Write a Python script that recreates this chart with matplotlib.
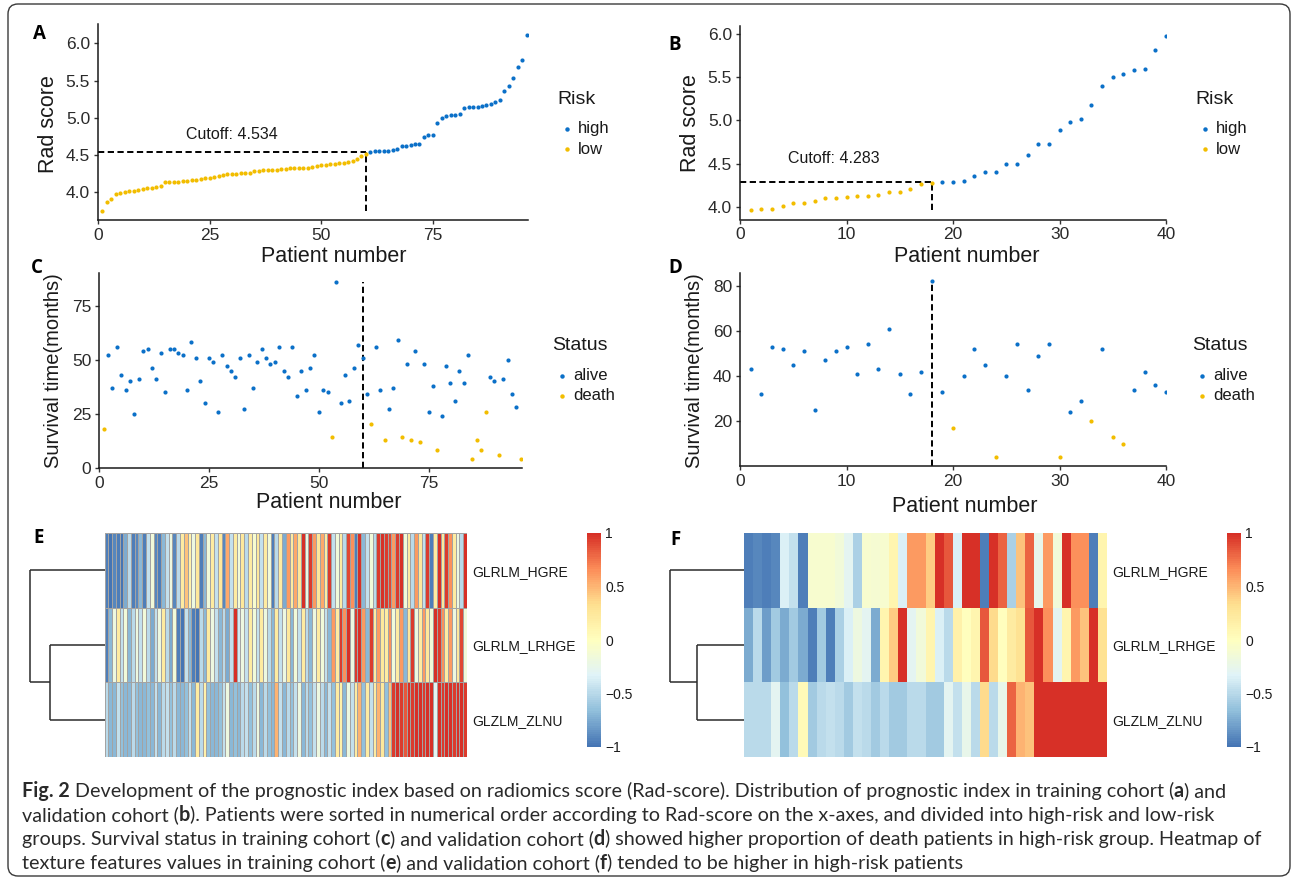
import matplotlib
matplotlib.use('Agg')
import matplotlib.pyplot as plt
import numpy as np
from matplotlib.colors import LinearSegmentedColormap
from matplotlib.patches import FancyBboxPatch

W, H = 1295, 883

# ---- data ----
train_score = [3.745, 3.87, 3.91, 3.97, 3.99, 4.005, 4.01, 4.02, 4.03, 4.035,
               4.05, 4.06, 4.07, 4.08, 4.13, 4.14, 4.14, 4.14, 4.15, 4.15,
               4.16, 4.165, 4.18, 4.19, 4.195, 4.205, 4.22, 4.23, 4.24, 4.24,
               4.245, 4.25, 4.255, 4.255, 4.28, 4.285, 4.29, 4.295, 4.30, 4.30,
               4.31, 4.31, 4.32, 4.32, 4.325, 4.33, 4.33, 4.34, 4.35, 4.365,
               4.37, 4.375, 4.38, 4.385, 4.39, 4.41, 4.42, 4.45, 4.49, 4.51,
               4.54, 4.55, 4.55, 4.55, 4.55, 4.57, 4.585, 4.62, 4.625, 4.63,
               4.64, 4.65, 4.745, 4.77, 4.77, 4.93, 5.0, 5.02, 5.035, 5.035,
               5.05, 5.125, 5.14, 5.14, 5.15, 5.155, 5.165, 5.19, 5.21, 5.24,
               5.36, 5.42, 5.53, 5.68, 5.77, 6.11]
train_cutoff = 4.534

valid_score = [3.96, 3.98, 3.98, 4.01, 4.05, 4.05, 4.07, 4.10, 4.10, 4.12,
               4.13, 4.13, 4.135, 4.17, 4.17, 4.21, 4.26, 4.28, 4.29, 4.29,
               4.295, 4.355, 4.40, 4.40, 4.50, 4.50, 4.60, 4.725, 4.73, 4.895,
               4.98, 5.02, 5.18, 5.40, 5.50, 5.535, 5.58, 5.60, 5.82, 5.98]
valid_cutoff = 4.283

train_surv = [18, 52, 37, 56, 43, 36, 40, 25, 41, 54, 55, 46, 41, 53, 35, 55,
              55, 53, 52, 36, 58, 51, 40, 30, 51, 49, 26, 52, 47, 45, 42, 51,
              27, 52, 37, 49, 55, 51, 48, 49, 56, 45, 42, 56, 33, 45, 36, 46,
              52, 26, 36, 35, 14, 86, 30, 43, 31, 46, 57, 51, 34, 20, 56, 36,
              13, 27, 37, 59, 14, 48, 13, 54, 12, 48, 26, 38, 8, 24, 47, 39,
              31, 45, 39, 52, 4, 13, 8, 26, 42, 40, 6, 41, 50, 34, 28, 4]
train_death = [1, 53, 62, 65, 69, 71, 73, 77, 85, 86, 87, 88, 91, 96]

valid_surv = [43, 32, 53, 52, 45, 51, 25, 47, 51, 53, 41, 54, 43, 61, 41, 32,
              42, 82, 33, 17, 40, 52, 45, 4, 40, 54, 34, 49, 54, 4, 24, 29,
              20, 52, 13, 10, 34, 42, 36, 33]
valid_death = [20, 24, 30, 33, 35, 36]

features = ['GLRLM_HGRE', 'GLRLM_LRHGE', 'GLZLM_ZLNU']

train_hgre = [-0.95, -1.0, -0.9, -0.95, -1.0, -0.75, -0.5, -0.95, -0.9, -0.7,
              -0.95, -0.45, -0.15, -0.9, -0.95, -0.7, -0.45, -0.2, -0.9, -0.5,
              0.2, 0.45, 0.15, -0.2, 0.25, -0.95, -0.7, -0.15, 0.2, -0.45,
              0.25, -0.9, 0.55, -0.45, 0.2, -0.15, 0.25, -0.5, 0.2, -0.1,
              0.25, -0.45, 0.2, -0.15, -0.95, -0.5, 0.2, -0.75, 0.6, 0.2,
              0.55, 0.25, 1.0, -0.2, 0.95, 0.6, 0.25, 0.55, 0.2, 0.95,
              -0.45, -0.15, 0.2, -0.5, 0.9, 0.65, -0.95, 1.0, -0.7, -0.45,
              -0.15, -0.5, 0.95, 1.0, 0.95, 0.9, 0.6, 0.95, 1.0, -0.15,
              0.2, -0.5, 0.6, 0.25, -0.45, 0.95, -0.95, 0.2, 1.0, 0.25,
              0.95, 0.65, 0.2, -0.2, -0.5, 1.0]
train_lrhge = [-0.95, -0.7, -0.2, 0.2, -0.45, -0.15, -0.7, -0.5, -0.2, -0.45,
               -0.15, -0.5, -0.75, -0.45, -0.2, 0.2, -0.5, -0.75, -0.15, -0.95,
               -1.0, -0.45, -0.7, -0.95, -1.0, -0.5, -0.7, 0.2, -0.2, -0.45,
               -0.7, -0.5, -0.75, -0.45, 1.0, -0.4, -0.2, -0.45, 0.2, -0.15,
               -0.45, 0.2, -0.2, -0.5, -0.7, 0.2, -0.45, -0.2, 0.25, -0.7,
               -0.15, -0.45, 0.2, -0.5, -0.7, -0.2, 0.2, -0.15, -0.45, -0.7,
               0.6, 0.2, 0.95, 0.65, 1.0, -0.2, 0.95, 1.0, 0.6, -0.7,
               0.95, 0.2, 0.6, 0.25, 0.2, 0.65, -0.15, 0.2, 0.6, -0.7,
               0.25, 0.95, -0.2, 0.2, 0.6, 0.25, -0.15, 1.0, 0.95, 0.65,
               0.2, 0.6, -0.2, 0.25, 0.9, -0.15]
train_zlnu = [-0.5, -0.7, -0.7, -0.45, -0.65, -0.7, -0.7, -0.5, -0.65, -0.7,
              -0.7, -0.65, -0.7, -0.45, -0.7, -0.5, -0.45, -0.65, -0.5, -0.7,
              -0.7, -0.65, -0.45, -0.7, 0.2, -0.5, 0.15, -0.65, -0.7, -0.7,
              -0.65, -0.45, -0.2, -0.7, -0.65, -0.7, -0.5, -0.45, -0.65, -0.5,
              -0.2, -0.7, -0.5, -0.65, -0.7, 0.5, -0.45, -0.7, -0.5, -0.65,
              -0.45, -0.2, -0.7, -0.5, -0.65, -0.45, -0.2, -0.5, -0.7, -0.45,
              -0.65, 0.2, 0.15, -0.7, -0.2, -0.45, 0.2, 0.5, -0.65, 0.2,
              -0.45, 0.2, 0.5, 0.25, -0.65, 0.45, 0.95, 1.0, 0.95, 0.85,
              1.0, 0.95, 1.0, 1.0, 0.95, 1.0, 1.0, -0.3, 1.0, 0.95,
              1.0, 1.0, 0.95, 1.0, 1.0, 0.95]

valid_hgre = [-0.95, -0.9, -0.95, -0.9, -0.35, -0.45, -0.95, -0.1, -0.1, -0.1,
              -0.15, -0.3, -0.55, -0.1, -0.12, -0.1, 0.1, -0.35, 0.6, 0.6,
              0.4, 1.0, 0.85, -0.35, 1.0, 1.0, -0.95, 1.0, 0.8, -0.55,
              0.45, 0.8, -0.25, 0.6, -0.15, 1.0, 0.65, 0.65, -0.95, 0.1]
valid_lrhge = [-0.75, -0.5, -0.8, -0.6, -0.75, -0.6, -0.75, -0.95, -0.6, -0.95,
               -0.55, -0.35, -0.2, -0.3, -0.75, 0.1, 0.4, 1.0, -0.3, -0.15,
               0.1, -0.35, -0.5, 0.15, 0.0, 0.1, 0.85, 0.35, 0.0, 0.2,
               0.3, 0.85, 1.0, 0.65, -0.3, 0.1, 0.6, 0.45, 1.0, 0.3]
valid_zlnu = [-0.5, -0.5, -0.5, -0.3, -0.65, -0.5, 0.05, -0.6, -0.5, -0.45,
              -0.5, -0.6, -0.45, -0.5, -0.6, -0.5, -0.6, -0.6, -0.5, -0.5,
              -0.6, -0.6, -0.3, -0.45, -0.25, -0.5, 0.35, -0.5, -0.25, 0.8,
              0.5, 0.45, 1.0, 1.0, 1.0, 1.0, 1.0, 1.0, 1.0, 1.0]

# merge heights of the row dendrograms (rows 2+3 first, then row 1)
train_merge = [0.73, 1.0]
valid_merge = [0.64, 1.0]

BLUE = '#0b70c8'
YELLOW = '#f2bd00'
TXT = '#1a1a1a'
heat_cmap = LinearSegmentedColormap.from_list(
    'rdylbu', ['#4575B4', '#91BFDB', '#E0F3F8', '#FFFFBF', '#FEE090', '#FC8D59', '#D73027'], N=100)

plt.rcParams['font.family'] = ['Liberation Sans', 'DejaVu Sans']
plt.rcParams['lines.scale_dashes'] = False
DASH = (0, (4.5, 2.5))


def px_axes(l, t, r, b):
    return fig.add_axes([l / W, 1 - b / H, (r - l) / W, (b - t) / H])


def style(ax):
    for s in ['top', 'right']:
        ax.spines[s].set_visible(False)
    for s in ['left', 'bottom']:
        ax.spines[s].set_linewidth(1.1)
        ax.spines[s].set_color(TXT)
    ax.tick_params(direction='out', length=3.2, width=1.0, color='#333333',
                   labelsize=12.5, labelcolor='#2a2a2a', pad=2.5)


fig = plt.figure(figsize=(W / 100, H / 100), dpi=100)
bg = fig.add_axes([0, 0, 1, 1], zorder=-1)
bg.set_xlim(0, W)
bg.set_ylim(H, 0)
bg.axis('off')
bg.add_patch(FancyBboxPatch((8, 4), 1282, 872, boxstyle='round,pad=0,rounding_size=10',
                            fc='none', ec='#3a3a3a', lw=1.0))


def rad_panel(box, score, cutoff, xlim, ylim, xticks, yticks, ctext_xy, ctext):
    ax = px_axes(*box)
    style(ax)
    score = np.array(score)
    idx = np.arange(1, len(score) + 1)
    high = score > cutoff
    ax.scatter(idx[high], score[high], s=9, c=BLUE, linewidths=0, zorder=3)
    ax.scatter(idx[~high], score[~high], s=9, c=YELLOW, linewidths=0, zorder=3)
    ncut = int(np.sum(~high))
    ax.plot([0, ncut], [cutoff, cutoff], color='black', lw=1.4, ls=DASH, zorder=2)
    ax.plot([ncut, ncut], [score.min(), cutoff], color='black', lw=1.4, ls=DASH, zorder=2)
    ax.text(ctext_xy[0], ctext_xy[1], ctext, ha='center', va='center', fontsize=11.5, color=TXT)
    ax.set_xlim(*xlim)
    ax.set_ylim(*ylim)
    ax.set_xticks(xticks)
    ax.set_yticks(yticks)
    ax.set_yticklabels(['%.1f' % v for v in yticks])
    return ax


def surv_panel(box, surv, deaths, ncut, xlim, ylim, xticks, yticks):
    ax = px_axes(*box)
    style(ax)
    surv = np.array(surv)
    idx = np.arange(1, len(surv) + 1)
    dead = np.isin(idx, deaths)
    ax.scatter(idx[~dead], surv[~dead], s=9, c=BLUE, linewidths=0, zorder=3)
    ax.scatter(idx[dead], surv[dead], s=9, c=YELLOW, linewidths=0, zorder=3)
    ax.plot([ncut, ncut], [ylim[0], surv.max()], color='black', lw=1.4, ls=DASH, zorder=2)
    ax.set_xlim(*xlim)
    ax.set_ylim(*ylim)
    ax.set_xticks(xticks)
    ax.set_yticks(yticks)
    return ax


def legend(x, y, title, labels):
    bg.text(x, y, title, fontsize=14, color=TXT, ha='left', va='center')
    for i, (lab, col) in enumerate(labels):
        yy = y + 30 + 20 * i
        bg.plot([x + 10], [yy], marker='o', ms=3.2, mec='none', mfc=col)
        bg.text(x + 21, yy, lab, fontsize=12, color=TXT, ha='left', va='center')


# A
rad_panel((98, 24, 528, 220.3), train_score, train_cutoff, (0, 96.3), (3.62, 6.26),
          [0, 25, 50, 75], [4.0, 4.5, 5.0, 5.5, 6.0], (30, 4.77), 'Cutoff: 4.534')
# B
rad_panel((740, 26.2, 1166, 219.5), valid_score, valid_cutoff, (0, 40), (3.855, 6.09),
          [0, 10, 20, 30, 40], [4.0, 4.5, 5.0, 5.5, 6.0], (8.8, 4.555), 'Cutoff: 4.283')
# C
surv_panel((99.3, 273.1, 522, 467.9), train_surv, train_death, 60, (0, 96.3), (-0.1, 90.1),
           [0, 25, 50, 75], [0, 25, 50, 75])
# D
surv_panel((740, 272.7, 1166, 465.8), valid_surv, valid_death, 18, (0, 40), (0.1, 85.9),
           [0, 10, 20, 30, 40], [20, 40, 60, 80])

for x, y in [(334, 257), (967, 257), (329, 503), (965, 507)]:
    bg.text(x, y, 'Patient number', fontsize=15.5, color=TXT, ha='center', va='center')
for x, y in [(49, 124), (690, 123)]:
    bg.text(x, y, 'Rad score', fontsize=15.5, color=TXT, ha='center', va='center', rotation=90)
for x, y in [(54, 371), (695, 371)]:
    bg.text(x, y, 'Survival time(months)', fontsize=14.5, color=TXT, ha='center', va='center',
            rotation=90)

legend(557, 99, 'Risk', [('high', BLUE), ('low', YELLOW)])
legend(1195, 99, 'Risk', [('high', BLUE), ('low', YELLOW)])
legend(552, 346, 'Status', [('alive', BLUE), ('death', YELLOW)])
legend(1192, 346, 'Status', [('alive', BLUE), ('death', YELLOW)])


def heat_panel(hbox, cbox, dbox, rows, merge, border):
    ax = px_axes(*hbox)
    data = np.array(rows)
    kw = dict(edgecolors='#a3a3a3', linewidth=0.45) if border else dict(edgecolors='face', linewidth=0)
    mesh = ax.pcolormesh(data, cmap=heat_cmap, vmin=-1, vmax=1, **kw)
    ax.set_xlim(0, data.shape[1])
    ax.set_ylim(3, 0)
    for s in ax.spines.values():
        s.set_visible(False)
    ax.set_xticks([])
    ax.set_yticks([0.5, 1.5, 2.5])
    ax.set_yticklabels(features)
    ax.yaxis.tick_right()
    ax.tick_params(length=0, pad=4, labelsize=10, labelcolor=TXT)

    cax = px_axes(*cbox)
    cb = fig.colorbar(mesh, cax=cax, ticks=[-1, -0.5, 0, 0.5, 1])
    cb.set_ticklabels(['\u22121', '\u22120.5', '0', '0.5', '1'])
    cb.outline.set_visible(False)
    cax.tick_params(length=0, labelsize=10, pad=3, labelcolor=TXT)

    dax = px_axes(*dbox)
    dax.axis('off')
    dax.set_xlim(merge[1], 0)
    dax.set_ylim(3, 0)
    lk = dict(color='#2b2b2b', lw=1.1, clip_on=False, solid_capstyle='butt')
    h1, h2 = merge
    dax.plot([0, h1], [1.5, 1.5], **lk)
    dax.plot([0, h1], [2.5, 2.5], **lk)
    dax.plot([h1, h1], [1.5, 2.5], **lk)
    dax.plot([h1, h2], [2.0, 2.0], **lk)
    dax.plot([0, h2], [0.5, 0.5], **lk)
    dax.plot([h2, h2], [0.5, 2.0], **lk)


heat_panel((104.5, 533, 467, 757), (587, 533, 601, 747), (29.5, 533, 104.5, 757),
           [train_hgre, train_lrhge, train_zlnu], train_merge, True)
heat_panel((744, 533, 1107, 757), (1227, 533, 1241, 747), (670, 533, 744, 757),
           [valid_hgre, valid_lrhge, valid_zlnu], valid_merge, False)

for lab, x, y in [('A', 39, 34), ('B', 675, 45), ('C', 37, 268), ('D', 675, 268),
                  ('E', 39, 538), ('F', 676, 540)]:
    bg.text(x, y, lab, fontsize=13.5, fontweight='bold', color='black', ha='center', va='center',
            family=['Open Sans', 'DejaVu Sans'])

# caption with bold run pieces
caption = [
    [('Fig. 2', True), (' Development of the prognostic index based on radiomics score (Rad-score). '
                        'Distribution of prognostic index in training cohort (', False),
     ('a', True), (') and', False)],
    [('validation cohort (', False), ('b', True),
     ('). Patients were sorted in numerical order according to Rad-score on the x-axes, '
      'and divided into high-risk and low-risk', False)],
    [('groups. Survival status in training cohort (', False), ('c', True),
     (') and validation cohort (', False), ('d', True),
     (') showed higher proportion of death patients in high-risk group. Heatmap of', False)],
    [('texture features values in training cohort (', False), ('e', True),
     (') and validation cohort (', False), ('f', True),
     (') tended to be higher in high-risk patients', False)],
]
cap_y = [791, 815, 839, 863]
cap_font = ['Lato', 'DejaVu Sans']
cap_size = 14.2
renderer = fig.canvas.get_renderer()


def text_w(s, bold):
    t = bg.text(0, 0, s, fontsize=cap_size, family=cap_font,
                fontweight='bold' if bold else 'normal')
    w = t.get_window_extent(renderer).width
    t.remove()
    return w


space_w = text_w('a a', False) - text_w('aa', False)
for line, y in zip(caption, cap_y):
    x = 22
    for s, bold in line:
        lead = len(s) - len(s.lstrip(' '))
        x += lead * space_w
        s2 = s.strip(' ')
        bg.text(x, y, s2, fontsize=cap_size, family=cap_font, color='#2a2a2a',
                fontweight='bold' if bold else 'normal', ha='left', va='center')
        x += text_w(s2, bold)
        x += (len(s) - len(s.rstrip(' '))) * space_w

fig.savefig('out.png', dpi=100)
